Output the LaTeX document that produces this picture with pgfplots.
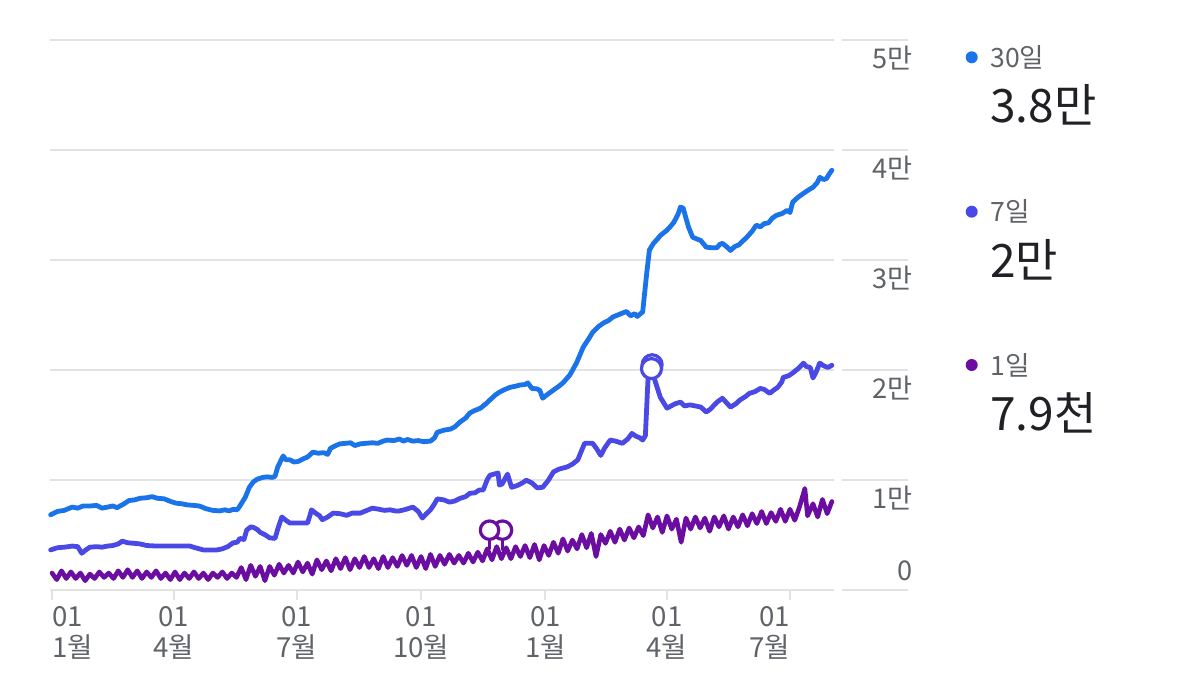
\documentclass[border=0pt]{standalone}
\usepackage{fontspec}
\setmainfont{Noto Sans CJK KR}
\usepackage{pgfplots}
\pgfplotsset{compat=1.18}

\definecolor{c30}{HTML}{1A73E8}
\definecolor{c7}{HTML}{4B49E6}
\definecolor{c1}{HTML}{6A0DA0}
\definecolor{gridc}{HTML}{E3E3E3}
\definecolor{labc}{HTML}{5F6368}
\definecolor{numc}{HTML}{202124}

% two-line month label
\newcommand{\xl}[3][c]{\begin{tabular}{@{}#1@{}}#2\\#3\end{tabular}}

\begin{document}
\begin{tikzpicture}
\path[use as bounding box] (0,0) rectangle (600pt,346pt);
\begin{axis}[
    at={(25pt,51.25pt)}, anchor=south west,
    scale only axis, width=429pt, height=274.75pt,
    xmin=-1.5, xmax=633.3, ymin=0, ymax=50000,
    clip=false,
    axis x line*=bottom, axis y line*=right,
    axis line style={draw=none},
    scaled y ticks=false,
    xtick={0,90,181,273,365,455,546},
    xticklabels={\makebox[0pt][l]{\xl[l]{01}{1월}}, \xl{01}{4월}, \xl{01}{7월}, \xl{01}{10월},
                 \xl{01}{1월}, \xl{01}{4월}, \makebox[0pt][r]{\xl[r]{01}{7월}}},
    xticklabel style={anchor=north, text=labc, font=\fontsize{13.8}{14}\selectfont},
    tick align=outside, major tick length=5pt,
    xtick style={gridc, line width=1pt},
    ytick={10000,20000,30000,40000,50000},
    yticklabels={1만,2만,3만,4만,5만},
    ytick style={draw=none},
    ymajorgrids, major grid style={gridc, line width=1pt},
    yticklabel style={anchor=north east, inner sep=0pt, xshift=-2.5pt, yshift=-2.8pt,
                      text=labc, font=\fontsize{13.6}{14}\selectfont},
    extra y ticks={0}, extra y tick labels={0},
    extra y tick style={grid=major, yticklabel style={anchor=south east, yshift=6.8pt}},
    every axis plot/.append style={line join=round, line cap=round},
]

% gap between plot grid and label grid
\fill[white] (axis cs:578.6,-1500) rectangle (axis cs:584.3,51500);

% 30일
\addplot[c30, line width=2.4pt] coordinates {
(-1,6800) (4,7100) (9,7200) (15,7500) (19,7400) (23,7600) (28,7600) (33,7650)
(37,7400) (41,7500) (45,7600) (48,7450) (52,7700) (57,8100) (61,8150) (65,8300)
(70,8350) (74,8450) (78,8300) (83,8250) (88,8000) (92,7850) (96,7800) (100,7700)
(105,7650) (109,7600) (114,7350) (119,7200) (124,7150) (128,7250) (131,7150) (134,7300)
(137,7250) (139,7600) (143,8400) (146,9300) (149,9800) (152,10050) (156,10200) (159,10250)
(163,10200) (165,10300) (167,11150) (171,12150) (173,11800) (176,11800) (179,11600) (182,11650)
(186,11900) (189,12050) (193,12500) (197,12400) (201,12450) (204,12300) (206,12850) (210,13100)
(213,13250) (217,13300) (221,13350) (224,13100) (228,13250) (232,13300) (237,13350) (241,13300)
(245,13500) (248,13600) (253,13550) (257,13700) (260,13500) (263,13650) (267,13500) (271,13550)
(275,13450) (280,13500) (283,13800) (285,14300) (290,14500) (295,14600) (298,14800) (302,15250)
(306,15600) (309,16050) (313,16300) (317,16500) (321,16900) (324,17250) (328,17700) (331,17950)
(335,18200) (339,18400) (343,18500) (346,18600) (350,18650) (352,18800) (355,18300) (359,18250)
(361,18100) (363,17400) (366,17700) (371,18150) (375,18500) (378,18800) (383,19500) (388,20600)
(393,22050) (397,22800) (400,23400) (404,23900) (408,24250) (412,24500) (415,24800) (419,25000)
(422,25150) (425,25300) (428,24900) (431,25100) (433,24850) (435,25050) (437,25250) (440,28800)
(442,30900) (445,31500) (448,31900) (450,32200) (453,32500) (455,32700) (458,33100) (460,33400)
(463,34100) (465,34800) (467,34700) (469,33800) (471,32950) (474,32050) (477,31900) (480,31750)
(484,31150) (488,31100) (492,31100) (494,31400) (496,31500) (499,31200) (502,30850) (505,31200)
(508,31350) (511,31700) (514,32050) (518,32600) (521,33150) (524,33000) (527,33300) (530,33350)
(533,33800) (536,34050) (540,34200) (544,34500) (546,34300) (548,35250) (552,35700) (556,36050)
(559,36300) (563,36600) (566,37000) (568,37500) (571,37300) (573,37400) (575,37800) (577,38150)
};

% 7일
\addplot[c7, line width=2.4pt] coordinates {
(-1,3600) (4,3800) (9,3850) (15,3950) (19,3900) (22,3300) (25,3600) (28,3850)
(33,3900) (37,3850) (41,3950) (45,4000) (49,4150) (52,4400) (56,4250) (61,4200)
(65,4150) (70,4000) (78,3950) (90,3950) (102,3950) (106,3800) (112,3600) (122,3600)
(126,3700) (130,3900) (134,4250) (137,4300) (139,4650) (142,4550) (144,5400) (147,5700)
(149,5650) (152,5450) (154,5200) (158,4950) (161,4700) (165,4650) (167,5500) (170,6600)
(173,6300) (176,6050) (182,6050) (189,6050) (191,6800) (192,7250) (195,6950) (198,6700)
(200,6350) (204,6600) (208,6950) (213,6900) (218,6750) (222,6950) (228,6950) (232,7150)
(237,7400) (242,7300) (246,7200) (250,7250) (254,7150) (257,7150) (262,7300) (267,7500)
(271,7100) (274,6500) (277,6900) (280,7250) (283,7800) (285,8250) (290,8150) (294,7950)
(298,8050) (302,8300) (306,8450) (309,8750) (313,8800) (316,9050) (319,9050) (322,10000)
(324,10400) (330,10600) (331,9500) (333,9600) (337,10500) (340,9300) (344,9450) (348,9700)
(351,9950) (355,9700) (359,9250) (363,9300) (367,9900) (371,10700) (375,10950) (381,11150)
(385,11400) (389,11800) (392,12700) (394,13300) (400,13300) (403,12800) (406,12200) (409,12900)
(413,13600) (417,13500) (422,13300) (426,13700) (429,14200) (432,13950) (435,13800) (437,13600)
(439,14000) (441,19300) (443.5,20150) (446,19050) (450,17500) (455,16500) (458,16700) (461,16900)
(465,17050) (468,16700) (472,16800) (476,16700) (480,16600) (484,16150) (487,16400) (492,17050)
(496,17400) (499,17000) (502,16600) (506,16900) (509,17250) (513,17550) (516,17850) (520,18000)
(524,18300) (527,18200) (531,17850) (534,18150) (537,18400) (540,18900) (541,19300) (545,19450)
(548,19700) (552,20100) (556,20600) (558,20300) (561,20200) (563,19250) (565,19700) (568,20600)
(571,20350) (574,20200) (577,20400)
};

% 1일
\addplot[c1, line width=2.3pt] coordinates {
(0,1500) (3.5,900) (7,1700) (10.5,1000) (14,1600) (17.5,1000) (21,1500) (24.5,800)
(28,1400) (31.5,1000) (35,1600) (38.5,1100) (42,1500) (45.5,1000) (49,1700) (52.5,1100)
(56,1800) (59.5,1100) (63,1700) (66.5,1000) (70,1600) (73.5,1100) (77,1700) (80.5,1000)
(84,1500) (87.5,900) (91,1600) (94.5,900) (98,1500) (101.5,1000) (105,1600) (108.5,1000)
(112,1500) (115.5,900) (119,1500) (122.5,1100) (126,1600) (129.5,1000) (133,1500) (136.5,1100)
(140,2000) (143.5,900) (147,2200) (150.5,1200) (154,2100) (157.5,800) (161,2100) (164.5,1300)
(168,2300) (171.5,1500) (175,2200) (178.5,1500) (182,2500) (185.5,1600) (189,2400) (192.5,1400)
(196,2700) (199.5,1800) (203,2600) (206.5,1700) (210,2800) (213.5,1900) (217,2900) (220.5,1800)
(224,2800) (227.5,2000) (231,3000) (234.5,2000) (238,2800) (241.5,1900) (245,3000) (248.5,2000)
(252,2900) (255.5,2100) (259,3100) (262.5,2200) (266,3100) (269.5,2000) (273,3000) (276.5,1900)
(280,3200) (283.5,2100) (287,3100) (290.5,2300) (294,3200) (297.5,2400) (301,3100) (304.5,2400)
(308,3300) (311.5,2500) (315,3400) (318.5,2600) (322,3700) (325.5,2700) (329,3900) (332.5,2800)
(336,3800) (339.5,2800) (343,3900) (346.5,3000) (350,4000) (353.5,2900) (357,4100) (360.5,2700)
(364,4000) (367.5,3100) (371,4300) (374.5,3300) (378,4600) (381.5,3500) (385,4500) (388.5,3700)
(392,5000) (395.5,3800) (399,5100) (402.5,3000) (406,5000) (409.5,4200) (413,5300) (416.5,4300)
(420,5500) (423.5,4500) (427,5600) (430.5,4700) (434,5700) (437.5,4900) (441,6800) (444.5,5600)
(448,6600) (451.5,5200) (455,6700) (458.5,5500) (462,6400) (465.5,4300) (469,6500) (472.5,5500)
(476,6600) (479.5,5600) (483,6500) (486.5,5300) (490,6600) (493.5,5700) (497,6700) (500.5,5500)
(504,6600) (507.5,5700) (511,6800) (514.5,5800) (518,6900) (521.5,6000) (525,7100) (528.5,6000)
(532,7000) (535.5,6200) (539,7300) (542.5,6200) (546,7300) (549.5,6300) (553,7500) (557,9200)
(559,6700) (563,7800) (566.5,6600) (570,8200) (573.5,6900) (577,8000)
};

% annotation pins
\addplot[c1, line width=1.5pt] coordinates {(323.7,3700) (323.7,5400)};
\addplot[c1, line width=1.5pt] coordinates {(333.3,3600) (333.3,5400)};
\addplot[only marks, mark=*, mark size=4.6pt,
    mark options={draw=c1, fill=white, line width=1.6pt}]
    coordinates {(333.3,5400) (323.7,5400)};
\addplot[only marks, mark=*, mark size=5pt,
    mark options={draw=c7, fill=white, line width=1.6pt}]
    coordinates {(444,20450) (443.5,20100)};
\end{axis}

% legend
\fill[c30] (485.85pt,317.35pt) circle (3pt);
\node[anchor=west, inner sep=0pt, text=labc, font=\fontsize{13.3}{14}\selectfont] at (495pt,317.5pt) {30일};
\node[anchor=west, inner sep=0pt, text=numc, font=\fontsize{23}{24}\selectfont] at (495pt,293.5pt) {3.8만};
\fill[c7] (485.85pt,240.15pt) circle (3pt);
\node[anchor=west, inner sep=0pt, text=labc, font=\fontsize{13.3}{14}\selectfont] at (495pt,240.5pt) {7일};
\node[anchor=west, inner sep=0pt, text=numc, font=\fontsize{23}{24}\selectfont] at (495pt,216pt) {2만};
\fill[c1] (485.85pt,163.5pt) circle (3pt);
\node[anchor=west, inner sep=0pt, text=labc, font=\fontsize{13.3}{14}\selectfont] at (495pt,163.5pt) {1일};
\node[anchor=west, inner sep=0pt, text=numc, font=\fontsize{23}{24}\selectfont] at (495pt,139.75pt) {7.9천};
\end{tikzpicture}
\end{document}
